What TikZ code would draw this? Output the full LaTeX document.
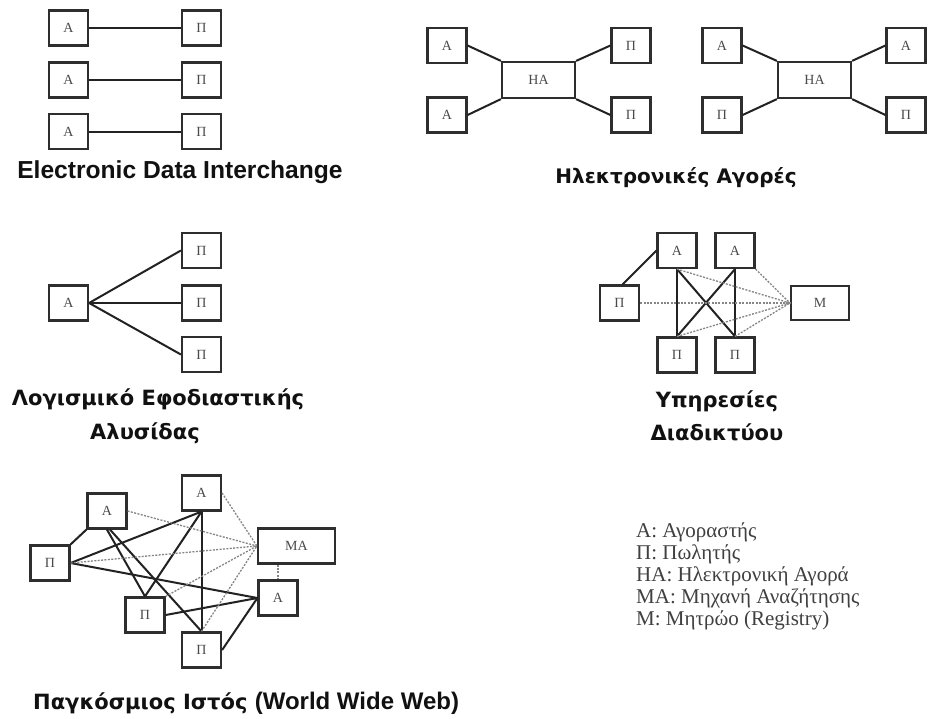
\documentclass[tikz,border=0pt]{standalone}
\usepackage{fontspec}
\setmainfont{Liberation Serif}
\newfontfamily\capfont{DejaVu Sans}
\newfontfamily\edifont{Liberation Sans}
\definecolor{boxc}{HTML}{2E2E2E}
\definecolor{labc}{HTML}{4A4A4A}
\definecolor{linec}{HTML}{222222}
\definecolor{dotc}{HTML}{858585}
\definecolor{capc}{HTML}{111111}
\definecolor{legc}{HTML}{404040}
\begin{document}
\begin{tikzpicture}[x=1pt,y=-1pt,
  bx/.style={draw=boxc, line width=2.2pt, fill=white, inner sep=0pt,
    minimum width=39pt, minimum height=35pt,
    font=\fontsize{14}{14}\selectfont, text=labc},
  widebox/.style={bx, minimum width=73pt, minimum height=36pt},
  con/.style={draw=linec, line width=2pt},
  dotline/.style={draw=dotc, line width=1.3pt, dash pattern=on 2pt off 1.4pt},
  captxt/.style={font=\capfont\bfseries\fontsize{20}{20}\selectfont, anchor=base,
    inner sep=0pt, text=capc},
  edicap/.style={font=\edifont\bfseries\fontsize{24.6}{24.6}\selectfont, anchor=base,
    inner sep=0pt, text=capc},
  leg/.style={font=\fontsize{21}{21}\selectfont, anchor=base west, inner sep=0pt, text=legc}
]
\fill[white] (0,0) rectangle (942,718);
\useasboundingbox (0,0) rectangle (942,718);

% ---------- Electronic Data Interchange ----------
\node[bx] (e1a) at (68.5,28) {A};
\node[bx] (e1p) at (201.5,28) {Π};
\node[bx] (e2a) at (68.5,80) {A};
\node[bx] (e2p) at (201.5,80) {Π};
\node[bx] (e3a) at (68.5,131.5) {A};
\node[bx] (e3p) at (201.5,131.5) {Π};
\draw[con] (e1a) -- (e1p);
\draw[con] (e2a) -- (e2p);
\draw[con] (e3a) -- (e3p);
\node[edicap] (tedi) at (180,178) {Electronic Data Interchange};

% ---------- Ηλεκτρονικές Αγορές ----------
\node[bx] (ma1) at (447,45.5) {A};
\node[bx] (ma2) at (447,115) {A};
\node[widebox] (mh) at (538.5,80) {HA};
\node[bx] (mp1) at (631,45.5) {Π};
\node[bx] (mp2) at (631,115) {Π};
\draw[con] (ma1.east) -- (mh.north west);
\draw[con] (ma2.east) -- (mh.south west);
\draw[con] (mh.north east) -- (mp1.west);
\draw[con] (mh.south east) -- (mp2.west);

\node[bx] (na1) at (722,45.5) {A};
\node[bx] (np1) at (722,115) {Π};
\node[widebox] (nh) at (814.5,80) {HA};
\node[bx] (na2) at (906,45.5) {A};
\node[bx] (np2) at (906,115) {Π};
\draw[con] (na1.east) -- (nh.north west);
\draw[con] (np1.east) -- (nh.south west);
\draw[con] (nh.north east) -- (na2.west);
\draw[con] (nh.south east) -- (np2.west);
\node[captxt] (tem) at (676,183) {Ηλεκτρονικές Αγορές};

% ---------- Λογισμικό Εφοδιαστικής Αλυσίδας ----------
\node[bx] (sa) at (68.5,303) {A};
\node[bx] (sp1) at (201.5,250.5) {Π};
\node[bx] (sp2) at (201.5,303) {Π};
\node[bx] (sp3) at (201.5,354.5) {Π};
\draw[con] (sa.east) -- (sp1.west);
\draw[con] (sa.east) -- (sp2.west);
\draw[con] (sa.east) -- (sp3.west);
\node[captxt, font=\capfont\bfseries\fontsize{21}{21}\selectfont] (tsc1) at (158,405) {Λογισμικό Εφοδιαστικής};
\node[captxt, font=\capfont\bfseries\fontsize{21}{21}\selectfont] (tsc2) at (145,439) {Αλυσίδας};

% ---------- Υπηρεσίες Διαδικτύου ----------
\node[bx] (wa1) at (677,250.5) {A};
\node[bx] (wa2) at (735,250.5) {A};
\node[bx] (wpl) at (619.5,303) {Π};
\node[bx, minimum width=58pt, minimum height=34pt] (wm) at (820,303) {M};
\node[bx] (wp1) at (677,355) {Π};
\node[bx] (wp2) at (735,355) {Π};
\draw[con] ([xshift=3pt]wpl.north) -- (wa1.west);
\draw[con] (wa1.south) -- (wp1.north);
\draw[con] (wa2.south) -- (wp2.north);
\draw[con] (wa1.south) -- (wp2.north);
\draw[con] (wa2.south) -- (wp1.north);
\draw[dotline] (wpl.east) -- (wm.west);
\draw[dotline] (wa1.south) -- (wm.west);
\draw[dotline] (wa2.south east) -- (wm.west);
\draw[dotline] (wp1.north) -- (wm.west);
\draw[dotline] (wp2.north) -- (wm.west);
\node[captxt, font=\capfont\bfseries\fontsize{21}{21}\selectfont] (tws1) at (717,407) {Υπηρεσίες};
\node[captxt, font=\capfont\bfseries\fontsize{21}{21}\selectfont] (tws2) at (717,440) {Διαδικτύου};

% ---------- Παγκόσμιος Ιστός ----------
\node[bx] (ga1) at (107,511) {A};
\node[bx] (ga2) at (201.5,493) {A};
\node[bx] (gpl) at (50,563) {Π};
\node[bx, minimum width=77pt] (gma) at (296.5,546) {MA};
\node[bx] (gar) at (278,598) {A};
\node[bx] (gpm) at (145,615) {Π};
\node[bx] (gpb) at (201.5,650) {Π};
\draw[con] (gpl.north east) -- (ga1.south west);
\draw[con] (gpl.east) -- (ga2.south);
\draw[con] (gpl.east) -- (gar.west);
\draw[con] (ga1.south) -- (gpm.north);
\draw[con] ([xshift=3pt]ga1.south) -- (gpb.north);
\draw[con] (ga2.south) -- (gpm.north);
\draw[con] (ga2.south) -- (gpb.north);
\draw[con] (gpm.east) -- (gar.west);
\draw[con] (gpb.east) -- (gar.west);
\draw[dotline] (ga1.east) -- (gma.west);
\draw[dotline] (ga2.east) -- (gma.west);
\draw[dotline] (gpl.east) -- (gma.west);
\draw[dotline] (gpm.north east) -- (gma.west);
\draw[dotline] (gpb.north) -- (gma.west);
\draw[dotline] (gma.south -| gar.north) -- (gar.north);
\node[captxt, anchor=base west] (tww) at (33,709)
  {{\fontsize{21}{21}\selectfont Παγκόσμιος Ιστός }{\edifont\bfseries\fontsize{24}{24}\selectfont(World Wide Web)}};

% ---------- Legend ----------
\node[leg] (l1) at (636,537) {A: Αγοραστής};
\node[leg] (l2) at (636,559) {Π: Πωλητής};
\node[leg] (l3) at (636,581) {HA: Ηλεκτρονική Αγορά};
\node[leg] (l4) at (636,603) {MA: Μηχανή Αναζήτησης};
\node[leg] (l5) at (636,625) {M: Μητρώο (Registry)};
\end{tikzpicture}
\end{document}
